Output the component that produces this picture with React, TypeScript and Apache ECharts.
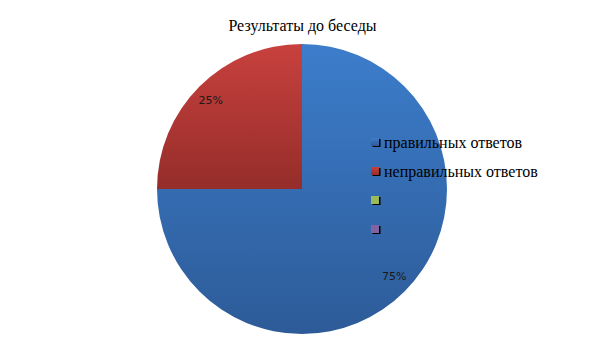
import React, { useEffect, useRef } from "react";
import * as echarts from "echarts";

const titleText = "Результаты до беседы";
const categories = ["правильных ответов", "неправильных ответов", " ", "  "];
const values = [75, 25, 0, 0];
const topColors = ["#3c7dcb", "#c8413e", "#9bbb59", "#8064a2"];
const bottomColors = ["#2d5b98", "#952d2a", "#9bbb59", "#8064a2"];

export default function App() {
  const ref = useRef<HTMLDivElement>(null);
  useEffect(() => {
    if (!ref.current) return;
    const chart = echarts.init(ref.current, undefined, { renderer: "svg" });
    const mainData = categories.map((name, i) => ({
      name,
      value: values[i],
      itemStyle: {
        color: new echarts.graphic.LinearGradient(0, 0, 0, 1, [
          { offset: 0, color: topColors[i] },
          { offset: 1, color: bottomColors[i] },
        ]),
      },
    }));
    const labelData = categories.slice(0, 2).map((name, i) => ({
      name,
      value: values[i],
      label: { offset: i === 0 ? [1, -4] : [0, 3] },
    }));
    chart.setOption({
      animation: false,
      backgroundColor: "#ffffff",
      title: {
        text: titleText,
        left: "center",
        top: 12,
        textStyle: {
          fontFamily: "Liberation Serif",
          fontSize: 16,
          fontWeight: "normal",
          color: "#000000",
        },
      },
      legend: {
        orient: "vertical",
        left: 371,
        top: 134,
        padding: 0,
        itemWidth: 8,
        itemHeight: 8,
        itemGap: 13,
        icon: "rect",
        data: categories,
        itemStyle: {
          shadowColor: "#000000",
          shadowOffsetX: 1.5,
          shadowOffsetY: 1,
          shadowBlur: 0,
        },
        textStyle: {
          fontFamily: "Liberation Serif",
          fontSize: 16,
          color: "#000000",
        },
        selectedMode: false,
      },
      series: [
        {
          type: "pie",
          center: [302, 189],
          radius: [0, 145],
          startAngle: 90,
          clockwise: true,
          data: mainData,
          label: { show: false },
          labelLine: { show: false },
          silent: true,
        },
        {
          type: "pie",
          center: [302, 189],
          radius: [108, 144],
          startAngle: 90,
          clockwise: true,
          data: labelData,
          itemStyle: { color: "rgba(0,0,0,0)" },
          label: {
            show: true,
            position: "inside",
            formatter: "{d}%",
            fontFamily: "DejaVu Sans",
            fontSize: 11,
            color: "#1a1a1a",
          },
          labelLine: { show: false },
          silent: true,
        },
      ],
    });
    return () => chart.dispose();
  }, []);
  return (
    <div
      ref={ref}
      style={{ position: "fixed", left: 0, top: 0, width: 605, height: 340 }}
    />
  );
}
